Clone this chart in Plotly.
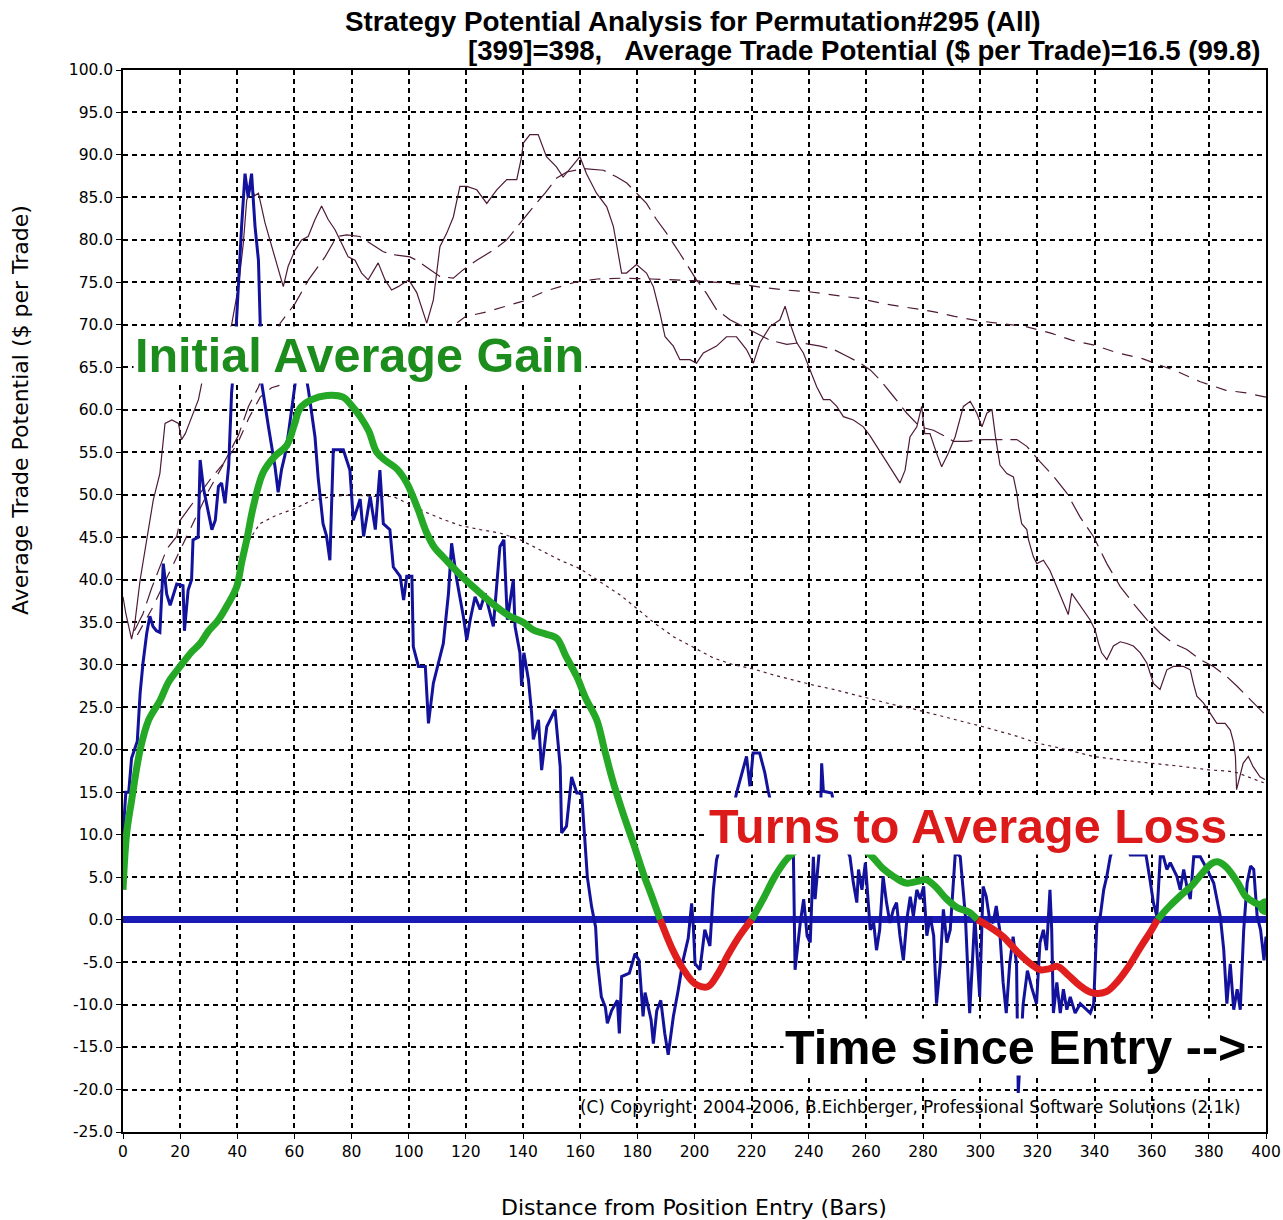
import plotly.graph_objects as go

W, H = 1283, 1220
L, R, T, B = 123, 17, 70, 88

# trade potential per bar (blue)
bars_blue = [0, 1, 2, 3, 4, 5, 6, 7, 8.3, 9.4, 10.5, 11.7, 12.9, 14.1, 15.3, 16.5, 18.8, 21, 21.5, 22.8,
             24, 24.5, 26.3, 27, 28.2, 29.4, 31.1, 32.3, 33.4, 34.5, 35.7, 37, 38, 39, 40.4, 41.5, 42.7,
             43.8, 45, 46.2, 47.4, 48, 48.6, 50.9, 53.2, 54.3, 55.5, 56.7, 57.8, 60.2, 61.5, 63.5, 64.9,
             67.2, 68.3, 70, 71.2, 72.4, 73.6, 77.1, 79.4, 80.6, 83, 84.2, 86.5, 88.3, 89.9, 91.1, 93.4,
             94.6, 97, 98.2, 99.3, 101.1, 101.6, 103.4, 105.8, 106.9, 108.6, 112.1, 113.9, 115, 116.8,
             119.1, 120.3, 121.5, 123.2, 125, 126.7, 129.6, 131.9, 133.3, 134.5, 136.6, 137.2, 138.9,
             139.5, 140.3, 141.9, 143, 143.6, 145.4, 146.5, 148.3, 151.2, 153, 153.5, 155.2, 157, 158.8,
             160.5, 161.7, 162.5, 164, 165.4, 166, 167.4, 168.8, 169.5, 171, 173, 173.7, 174.5, 177.2,
             179.2, 180.6, 182, 182.7, 184.8, 185.6, 186.8, 188.2, 189.6, 190.8, 192.6, 194.3, 196,
             197.8, 199, 199.6, 200.2, 201.9, 203.6, 205.4, 206.6, 207.7, 210, 213, 214.7, 218.2, 219.4,
             220.5, 222.8, 224.6, 225.8, 228, 231, 234.6, 235.2, 237, 238.2, 239.4, 240.5, 241.6, 242.2,
             243.9, 244.5, 245.1, 248, 251, 254.4, 255.6, 256.8, 257.4, 258.6, 259.8, 260.9, 261.5,
             262.7, 263.7, 264.8, 266, 267.2, 268.4, 269.6, 270.7, 271.9, 273.1, 274.3, 275.5, 276.6,
             277.8, 279, 280.2, 281.3, 282.5, 283.7, 284.7, 286, 287.1, 288.3, 289.5, 291.3, 293, 294.8,
             296, 296.3, 298.1, 299.8, 301, 302.1, 303.3, 304.5, 305.6, 306.8, 308, 309.1, 310.3, 311.5,
             312.7, 313.3, 315, 316.5, 318, 319.7, 320.9, 322.1, 323.2, 324.4, 325, 325.6, 326.8, 328,
             329.1, 330.3, 331.5, 333.2, 335, 338.5, 339.7, 340.8, 342, 343.2, 344.3, 345.5, 348, 351,
             352.5, 358, 359.4, 360.6, 361.8, 363, 364.1, 365.3, 366.5, 368.8, 370, 371.2, 372.3, 373.5,
             374.7, 377, 379.4, 381.7, 384, 385.2, 386.3, 387.5, 388.7, 389.9, 391, 392.2, 393.4, 394.6,
             395.7, 396.9, 398.1, 399.3, 400]
potential = [10, 15, 15, 19, 20, 21, 26.7, 30.2, 33.7, 35.7, 34.5, 34, 33.8, 41.9, 38.3, 37, 39.5, 39.3, 34, 38.8,
             40, 44.7, 45, 54.1, 50.7, 48.6, 45.9, 47, 51, 51.4, 49, 53.5, 62, 66, 75.3, 81.6, 87.8,
             85, 87.8, 81.6, 77.6, 70, 63, 58, 53.3, 50.3, 53, 54.7, 57, 63, 66, 65, 62.3,
             56.8, 52, 46.6, 45.2, 42.3, 55.3, 55.3, 52.9, 47, 49.5, 45.1, 49.8, 45.9, 52.9, 46.6, 45.9,
             41.5, 40.4, 37.6, 40.4, 40.4, 32.1, 29.8, 29.8, 23.1, 27.8, 32.5, 38.4, 44.3, 40,
             35.7, 32.9, 35.3, 38, 36.5, 38.4, 34.5, 43.9, 44.7, 35.3, 40, 34.5, 31.4,
             27.5, 31.4, 28.2, 24.3, 21.2, 23.5, 17.6, 22.7, 24.7, 18, 10.2, 11, 16.8, 14.9,
             14.9, 9, 5, 1.5, -0.9, -4.8, -9.1, -10.3, -12.2, -10.7, -9.5, -13.4, -6.7, -6.3,
             -4, -4.8, -11.4, -8.6, -11.8, -14.6, -10.7, -9.5, -13.4, -15.9, -11.4, -8.3, -4.8,
             -2.2, 1.9, -0.9, -5.2, -5.9, -1.2, -3.1, 3.5, 7, 10, 12, 14.9, 19.2, 15.7,
             19.6, 19.6, 17.3, 15.1, 12, 10, 7.8, -5.9, -0.4, 2.4, -1.9, -2.7, 7.4, 2.4,
             9, 18.4, 15.1, 14.9, 10, 7.4, 4.3, 2, 5.9, 3.5, 6.7, 2, -1.2,
             -0.4, -3.6, -1.2, 5.1, 2, -0.4, 1.2, 2, -1.9, -4.8, 0, 2.7, 0.4,
             3.5, 2.4, 3.9, -1.9, 0.4, -1.9, -9.9, -5.2, 1.2, -2.7, -1.2, 8, 7.4, 0.4,
             -9.1, -11, 0.4, -9.1, 3.9, 2.7, 0, -0.4, 1.6, -1.2, -7.4, -11, -5.2, -2,
             -5.2, -20.4, -10, -6, -8, -9.9, -2.7, -1.2, -3.6, 3.5, -1.2, -11, -7.4, -11,
             -8.2, -10.6, -9.1, -11, -9.9, -11, -9.9, -0.4, 0.4, 3.5, 5.1, 7.4, 10, 9,
             7.6, 7.6, 4.7, 2, 0.4, 7.4, 7.4, 5.9, 6.7, 5.1, 3.5, 5.9, 3.9, 2.4,
             7.4, 7.4, 5.9, 4.3, 0.4, -3.5, -9.9, -5.2, -10.6, -8.2, -10.6, -1.2, 4.3, 6.3,
             5.9, 0.4, -1.2, -4.8, -2]

# smoothed average potential (green above zero, red below)
bars_avg = [0, 1.3, 3, 6, 9, 13, 16, 20, 24, 27, 30, 33, 36.5, 39.8, 41.5, 43.3, 45.6, 49, 53, 57.3,
            60, 62, 66, 71.3, 77, 80, 83, 86, 88.8, 92, 96, 99.3, 103, 106.3, 109, 112, 118, 123.8,
            130, 135.4, 140, 143.5, 148, 151.8, 155, 158.8, 162, 165.8, 168.5, 171.6, 175, 178.6, 182,
            185, 188, 192, 196, 200, 204.6, 208, 212, 216, 220, 224, 228, 232, 235, 240, 248, 255,
            261, 266, 270, 274, 278, 281, 284, 288, 292, 296, 299, 303, 308, 313, 318, 321, 324, 327,
            331, 335, 339, 344, 348, 352, 356, 360, 362, 366, 370, 374, 378, 381, 383, 386, 390, 393,
            396, 400]
avg_potential = [3.5, 10.2, 14, 20, 23.5, 25.8, 28, 29.8, 31.5, 32.5, 34, 35.1, 37, 39.2, 42, 44.7, 48.6, 52.6,
                 54.5, 55.8, 58.3, 60.2, 61.2, 61.7, 61.5, 60.5, 59.2, 57.5, 55, 54, 53, 51.4, 48.5, 45.5,
                 43.8, 42.7, 40.6, 38.8, 37, 35.7, 35, 34.1, 33.6, 33.1, 31, 28.6, 26, 23.5, 20, 16.1,
                 12.5, 9, 5.5, 2.8, 0, -3.3, -5.8, -7.5, -7.9, -6.5, -4, -1.8, 0, 2.4, 5, 7, 8, 9.2,
                 9.6, 9.2, 7.8, 6, 5, 4.3, 4.5, 4.7, 4, 2.5, 1.4, 0.9, 0, -0.8, -2, -3.8, -5.3, -5.9,
                 -5.8, -5.5, -6.6, -7.8, -8.6, -8.5, -7.3, -5.5, -3.3, -1.2, 0, 1.5, 2.8, 4, 5.6, 6.6,
                 6.8, 6.2, 4.4, 2.7, 2, 1.5]

# maximum potential (thin solid)
bars_max = [0, 1, 3, 4, 6, 8.3, 10.6, 12.9, 14.1, 14.7, 17.1, 19.4, 20.5, 21.8, 24.1, 26.4, 27.6, 30, 34,
            38, 40.4, 42.1, 43.3, 45, 46, 47.4, 49.7, 52, 54.4, 56.1, 57.8, 60.2, 62.5, 64.8, 67.2,
            69.5, 71.8, 74.2, 76.5, 78.8, 81.2, 83.5, 85.8, 89.3, 91.7, 94, 96.3, 100, 102.8, 106.3,
            108.6, 110.9, 113.3, 115.6, 117.9, 120.3, 123.8, 127.3, 130.8, 134.3, 137.8, 139.5, 140.1,
            142.4, 145.3, 148.2, 151.7, 154, 157, 159.9, 162.2, 165.7, 169.3, 171.6, 173.3, 174.5,
            176.2, 179.7, 183.2, 185.6, 187.9, 189.7, 192.6, 194.9, 198.4, 200.7, 203.1, 207.7, 211.2,
            214.7, 218.2, 220.6, 222.9, 226.4, 229.9, 231.7, 233.4, 235.8, 238.1, 240.4, 242.8, 245.1,
            247.4, 249.8, 252.1, 255.6, 259.1, 261.5, 263.8, 266.2, 269, 271.9, 273.7, 275.4, 277.8,
            279.5, 280.6, 282.4, 284.7, 286.5, 288.8, 291.2, 294.1, 296.5, 298.8, 300.6, 302.3, 304.1,
            305.3, 306.9, 309.3, 311.6, 312.8, 313.4, 314.5, 316.3, 316.9, 318.6, 319.8, 322.1, 324.4,
            326.8, 329.1, 330.8, 332, 333.7, 336.1, 338.4, 340.2, 341.4, 342.5, 344.3, 346.6, 349,
            351.3, 353.6, 356, 358.3, 360.6, 362.9, 365.3, 367.6, 371.1, 373.5, 374.6, 375.8, 378.1,
            380.5, 382.8, 385.7, 387.5, 388.7, 389.3, 389.7, 390.9, 392, 393.8, 395.5, 397.9, 399.6]
max_potential = [38, 36, 33, 34.5, 40, 44.7, 49.4, 52.5, 56.5, 58.4, 58.8, 58.4, 56.5, 57.2, 59.2, 61.2, 63.2, 65,
                 67, 70, 74.5, 79.6, 84.7, 86.3, 85.2, 85.5, 82, 79.2, 76.5, 74.5, 76.9, 78.8, 80, 80.4,
                 82.4, 84, 82.4, 81.2, 79.6, 78, 77.6, 76.1, 75.3, 77.3, 75.3, 74.1, 74.5, 75.3, 73.8,
                 70.2, 72.9, 79.2, 80.8, 82.7, 86.3, 86.3, 85.9, 84.3, 85.9, 87.1, 87.1, 89.8, 91.4, 92.4,
                 92.4, 89.8, 88.6, 87.4, 88.6, 89.8, 87.8, 85.5, 83.9, 81.6, 78.4, 76.1, 76.1, 77.1, 76.1,
                 74.5, 71.4, 68.6, 67.5, 65.9, 65.9, 65.5, 66.7, 67.5, 68.6, 68.6, 67.1, 65.5, 67.9, 69.8,
                 70.6, 72.2, 70.2, 67.9, 66.7, 64.7, 62.7, 61.2, 61.2, 60.4, 59.2, 58.8, 58, 56.9, 55.7,
                 54.5, 53, 51.4, 52.9, 56.8, 58, 60.4, 57.2, 57.2, 54.9, 53.3, 54.9, 56.8, 60.4, 61, 59.6,
                 58, 59.6, 60, 56.9, 53.5, 52.5, 52.1, 50.2, 48.6, 46.6, 45.9, 44.7, 42.7, 41.9, 42.3,
                 41.1, 39.2, 37.2, 35.9, 38.4, 37.6, 36.5, 35.3, 34.1, 32.5, 31.4, 30.6, 32.2, 32.7, 32.5,
                 32.2, 31.4, 30.2, 27.8, 27.1, 29.4, 29.8, 29.8, 29.4, 27.8, 26.3, 25.5, 24.3, 23.1, 23.1,
                 22.3, 20.8, 19.2, 15.3, 16.8, 18.4, 19.2, 18, 16.8, 16.5]

# upper band (long dash)
bars_upper = [4, 7, 10, 13, 15.3, 18.8, 20, 23.5, 27, 30.5, 35.2, 40.4, 43.9, 47.4, 51, 55, 60.2, 64.9, 70.7,
              74.8, 78.3, 82.9, 86.5, 91.1, 95.8, 100.4, 102.8, 107.5, 110.9, 115.6, 119.1, 123.8, 129.6,
              134.3, 139, 143.6, 147.7, 151.8, 155.3, 161.2, 168.1, 172.8, 176.3, 179.7, 183.2, 186.7,
              190.2, 194.9, 198.4, 200.7, 204.2, 207.7, 212.4, 215.9, 221.8, 226.4, 232.3, 237, 244,
              248.7, 253.4, 258, 261.5, 265, 269.6, 274.3, 278.9, 283.6, 288.2, 290.6, 295.3, 301.1,
              306.9, 312.8, 316.3, 320.9, 325.6, 330.3, 334.9, 339.6, 344.3, 349, 353.6, 358.3, 363,
              367.6, 372.3, 377, 381.6, 386.3, 389.8, 394.5, 399.2]
upper_band = [34, 36, 39, 41.5, 43.6, 45.1, 47, 48.6, 50.2, 51.8, 53.7, 57, 60.4, 62.7, 66, 70.2, 72.5, 75.3, 78,
              80.4, 80.6, 80.4, 79.6, 78.6, 78.2, 78, 77.6, 76.5, 75.7, 75.5, 76.5, 77.6, 78.8,
              80, 82, 83.9, 85.5, 87.3, 88, 88.4, 88.2, 87.4, 86.7, 85.5, 84.3, 82.4,
              80.8, 78.4, 76.5, 75.3, 73.7, 71.8, 70.6, 70, 69, 68.2, 67.7, 67.9, 67.5,
              67.1, 66.3, 65.5, 64.7, 63.5, 61.6, 59.6, 58, 57.6, 56.8, 56.3, 56.3, 56.5,
              56.5, 56.5, 55.7, 53.9, 52.2, 50.2, 47.4, 45.1, 41.9, 39.2, 37.2, 35.3, 33.7,
              32.5, 31.8, 30.6, 29.8, 28.6, 27.5, 25.9, 24.3]

# middle band (medium dash)
bars_mid = [5, 10, 15, 20, 25, 30, 35, 40, 44, 48, 52, 56, 62, 75, 90, 105, 115, 120, 127, 133, 140, 148,
            158, 166, 175, 185, 193, 200, 208, 216, 224, 232, 240, 250, 258, 266, 274, 283, 291, 299,
            306, 316, 325, 332, 340, 348, 357, 369, 377, 386, 393, 400]
mid_band = [33.5, 36.5, 40, 43.5, 47, 50.5, 53.5, 56, 59, 61.5, 62.6, 63, 63.8, 65.5, 67.5, 69, 69.8, 71,
            71.5, 72.1, 72.8, 74, 75, 75.4, 75.5, 75.4, 75.3, 75.2, 75, 74.8, 74.4, 74.1, 73.9, 73.5,
            73.1, 72.5, 72.1, 71.6, 71, 70.5, 70.2, 69.8, 69, 68.2, 67.6, 66.7, 66, 64.5, 63.3, 62.3,
            62, 61.5]

# lower band (fine dots)
bars_low = [40, 44.4, 47.9, 53.7, 59.6, 66.5, 73.5, 80, 88.8, 94.6, 99.3, 106.3, 112.1, 117.9, 125, 131.9,
            139, 146, 153, 160, 167, 174, 179.9, 185.6, 192.6, 199.6, 206.6, 213.6, 220.6, 227.6, 234.6,
            241.6, 248.6, 255.6, 262.6, 269.6, 276.6, 283.6, 289.4, 301, 312.7, 319.7, 330.3, 339.6,
            349, 360.6, 371.2, 380.5, 386.3, 389.8, 399.2]
low_band = [42.5, 44.7, 46.6, 47.6, 48.3, 49.4, 49.8, 50, 49.8, 49.8, 49, 47.9, 47.1, 46.4, 45.9, 45.5,
            44.7, 43.5, 42.3, 41.3, 39.8, 38.2, 36.6, 35, 33.3, 32, 30.8, 30, 29.5, 28.8, 28.2,
            27.6, 27.1, 26.5, 25.9, 25.3, 24.8, 24.2, 23.7, 22.7, 21.6, 20.8, 20, 19.2,
            18.8, 18.4, 18, 17.6, 17.5, 17.3, 16.1]

x_ticks = list(range(0, 401, 20))
y_ticks = list(range(-25, 101, 5))

PURPLE = "#4e1a36"
BLUE = "#12129c"
GREEN = "#25a825"
RED = "#e01e1e"


def px_x(p):
    """window pixel x -> paper x"""
    return (p - L) / (W - L - R)


def px_y(p):
    """window pixel y -> paper y"""
    return (H - B - p) / (H - T - B)


fig = go.Figure()

# purple reference lines
for xs, ys, dash in [(bars_low, low_band, "3px,4px"),
                     (bars_mid, mid_band, "11px,9px"),
                     (bars_upper, upper_band, "22px,8px"),
                     (bars_max, max_potential, "solid")]:
    fig.add_trace(go.Scatter(x=xs, y=ys, mode="lines",
                             line=dict(color=PURPLE, width=1.2, dash=dash)))

fig.add_trace(go.Scatter(x=bars_blue, y=potential, mode="lines",
                         line=dict(color=BLUE, width=3)))

avg_pos = [v if v >= 0 else None for v in avg_potential]
avg_neg = [v if v <= 0 else None for v in avg_potential]
fig.add_trace(go.Scatter(x=bars_avg, y=avg_pos, mode="lines",
                         line=dict(color=GREEN, width=7, shape="spline")))
fig.add_trace(go.Scatter(x=bars_avg, y=avg_neg, mode="lines",
                         line=dict(color=RED, width=7, shape="spline")))
fig.add_trace(go.Scatter(x=bars_avg[-1:], y=avg_potential[-1:], mode="markers",
                         marker=dict(color=GREEN, size=17)))

axis_common = dict(showline=True, linecolor="black", linewidth=1.5, mirror=True,
                   showgrid=True, gridcolor="black", gridwidth=1.5, griddash="5px,4px",
                   ticks="outside", ticklen=5, tickcolor="black",
                   tickfont=dict(family="DejaVu Sans", size=15.5, color="black"))

fig.update_xaxes(range=[0, 400], tickvals=x_ticks, **axis_common)
fig.update_yaxes(range=[-25, 100], tickvals=y_ticks, ticktext=[f"{v:.1f}" for v in y_ticks],
                 zeroline=True, zerolinecolor="#1a1ab4", zerolinewidth=7, **axis_common)

big = dict(family="Liberation Sans, Arial", size=48.5)
annotations = [
    dict(x=3.5, y=66.45, xref="x", yref="y", xanchor="left", yanchor="middle",
         text="<b>Initial Average Gain</b>", font=dict(color="#1c8c1c", **big),
         bgcolor="white", borderpad=1),
    dict(x=204.5, y=11.0, xref="x", yref="y", xanchor="left", yanchor="middle",
         text="<b>Turns to Average Loss</b>", font=dict(color="#dc1a1a", **big),
         bgcolor="white", borderpad=1),
    dict(x=231, y=-15.0, xref="x", yref="y", xanchor="left", yanchor="middle",
         text="<b>Time since Entry --></b>", font=dict(color="black", **big),
         bgcolor="white", borderpad=1),
    dict(x=391.6, y=-22.1, xref="x", yref="y", xanchor="right", yanchor="middle",
         text="(C) Copyright\u00a0 2004-2006, B.Eichberger, Professional Software Solutions (2.1k)",
         font=dict(family="DejaVu Sans", size=16.8, color="black")),
    dict(x=px_x(692.5), y=px_y(22), xref="paper", yref="paper", xanchor="center", yanchor="middle",
         text="<b>Strategy Potential Analysis for Permutation#295 (All)</b>",
         font=dict(family="Liberation Sans, Arial", size=27.8, color="black")),
    dict(x=px_x(1262), y=px_y(50), xref="paper", yref="paper", xanchor="right", yanchor="middle",
         text="<b>[399]=398,\u00a0\u00a0 Average Trade Potential ($ per Trade)=16.5 (99.8)</b>",
         font=dict(family="Liberation Sans, Arial", size=27.6, color="black")),
    dict(x=px_x(20), y=px_y(410), xref="paper", yref="paper", xanchor="center", yanchor="middle",
         text="Average Trade Potential ($ per Trade)", textangle=-90,
         font=dict(family="DejaVu Sans", size=22, color="black")),
    dict(x=px_x(694), y=px_y(1207), xref="paper", yref="paper", xanchor="center", yanchor="middle",
         text="Distance from Position Entry (Bars)",
         font=dict(family="DejaVu Sans", size=22, color="black")),
]
for a in annotations:
    a["showarrow"] = False

fig.update_layout(
    width=W, height=H,
    margin=dict(l=L, r=R, t=T, b=B, autoexpand=False),
    paper_bgcolor="white", plot_bgcolor="white",
    showlegend=False,
    annotations=annotations,
)

# drop the default 8px page margin so the figure fills the window exactly
fig.write_html("out.html", config={"displayModeBar": False},
               post_script="document.body.style.margin='0';")
